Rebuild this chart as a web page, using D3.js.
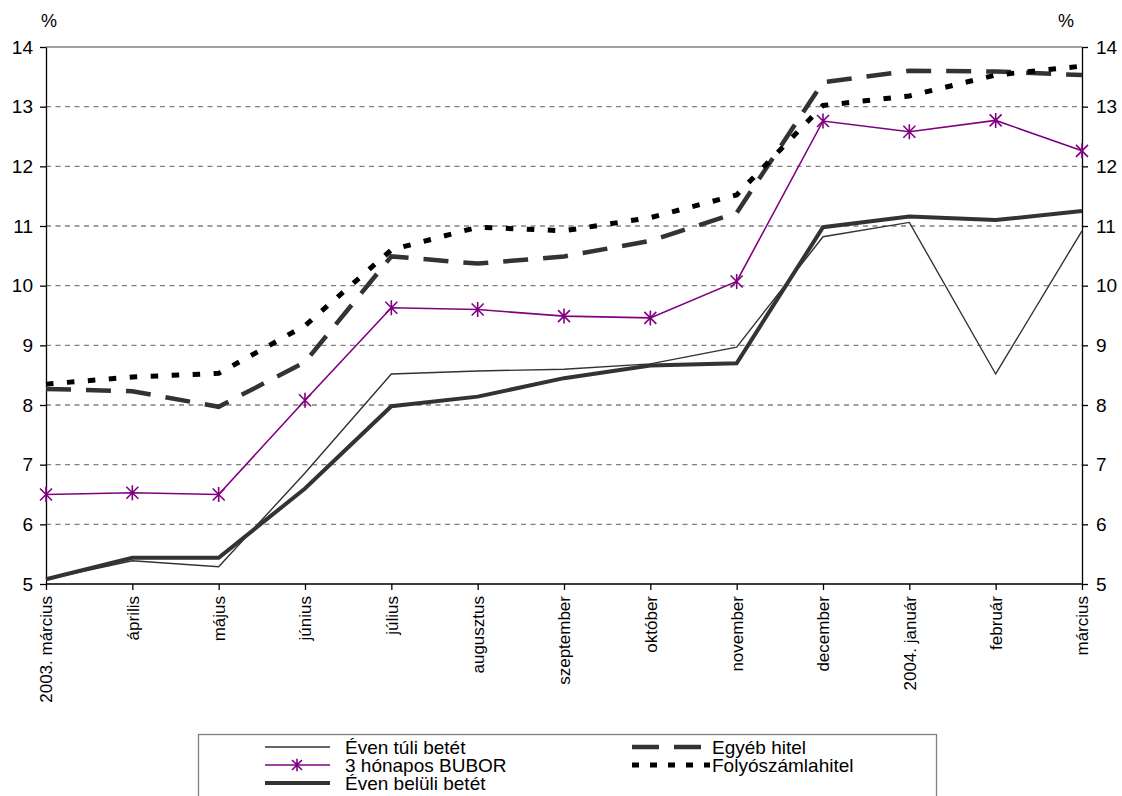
<!DOCTYPE html>
<html>
<head>
<meta charset="utf-8">
<script src="https://cdn.jsdelivr.net/npm/d3@7/dist/d3.min.js"></script>
<style>
  html, body { margin: 0; padding: 0; background: #fff; }
  svg { display: block; font-family: "Liberation Sans", Arial, sans-serif; }
</style>
</head>
<body>
<svg id="chart" width="1122" height="796"></svg>
<script>
// Months on the category axis
const months = ["2003. március", "április", "május", "június", "július", "augusztus",
  "szeptember", "október", "november", "december", "2004. január", "február", "március"];

// Interest rates, %
const evenTuliBetet   = [5.08, 5.39, 5.29, 6.86, 8.52, 8.57, 8.60, 8.69, 8.97, 10.82, 11.06, 8.52, 10.92];
const bubor3Honapos   = [6.50, 6.53, 6.50, 8.08, 9.63, 9.60, 9.49, 9.46, 10.07, 12.76, 12.58, 12.77, 12.26];
const evenBeluliBetet = [5.08, 5.44, 5.44, 6.60, 7.98, 8.14, 8.45, 8.66, 8.70, 10.98, 11.16, 11.10, 11.25];
const egyebHitel      = [8.27, 8.23, 7.97, 8.72, 10.49, 10.37, 10.49, 10.75, 11.22, 13.41, 13.60, 13.59, 13.53];
const folyoszamla     = [8.35, 8.47, 8.53, 9.33, 10.60, 10.98, 10.92, 11.14, 11.52, 13.02, 13.18, 13.53, 13.68];

const yTicks = [5, 6, 7, 8, 9, 10, 11, 12, 13, 14];

const svg = d3.select("#chart");
const plotLeft = 46, plotRight = 1082, plotTop = 47, plotBottom = 584;

const x = d3.scalePoint().domain(months).range([plotLeft, plotRight]);
const y = d3.scaleLinear().domain([5, 14]).range([plotBottom, plotTop]);

// Horizontal grid
svg.append("g")
  .selectAll("line")
  .data(yTicks.filter(t => t > 5 && t < 14))
  .join("line")
  .attr("x1", plotLeft).attr("x2", plotRight)
  .attr("y1", d => y(d)).attr("y2", d => y(d))
  .attr("stroke", "#808080").attr("stroke-width", 1.4)
  .attr("stroke-dasharray", "5,4.5");

// Plot frame top
svg.append("line")
  .attr("x1", plotLeft).attr("x2", plotRight)
  .attr("y1", y(14)).attr("y2", y(14))
  .attr("stroke", "#808080").attr("stroke-width", 1.3);

// Axes
const axisStyle = (g, size) => {
  g.selectAll("text").attr("font-size", size).attr("fill", "#000")
    .attr("font-family", "Liberation Sans, Arial, sans-serif");
  g.selectAll("path, line").attr("stroke", "#000").attr("stroke-width", 1.3);
};

svg.append("g")
  .attr("transform", `translate(${plotLeft},0)`)
  .call(d3.axisLeft(y).tickValues(yTicks).tickSize(6).tickPadding(7).tickSizeOuter(0))
  .call(g => axisStyle(g, 19));

svg.append("g")
  .attr("transform", `translate(${plotRight},0)`)
  .call(d3.axisRight(y).tickValues(yTicks).tickSize(6).tickPadding(8).tickSizeOuter(0))
  .call(g => axisStyle(g, 19));

const xAxis = svg.append("g")
  .attr("transform", `translate(0,${plotBottom})`)
  .call(d3.axisBottom(x).tickSize(6).tickSizeOuter(0))
  .call(g => axisStyle(g, 17));
xAxis.select(".domain").attr("d", `M${plotLeft},0H${plotRight}`);
xAxis.selectAll("text")
  .attr("transform", "rotate(-90)")
  .attr("text-anchor", "end")
  .attr("x", -12).attr("y", 0)
  .attr("dy", "0.35em");

// Unit labels
svg.append("text").attr("x", 49).attr("y", 27).attr("text-anchor", "middle")
  .attr("font-size", 18).text("%");
svg.append("text").attr("x", 1066).attr("y", 27).attr("text-anchor", "middle")
  .attr("font-size", 18).text("%");

// Series
const dashLong = "25,15";
const dashShort = "7.5,13.5";
const series = [
  { name: "Egyéb hitel", values: egyebHitel, color: "#333333", width: 4.5, dash: dashLong },
  { name: "Folyószámlahitel", values: folyoszamla, color: "#000000", width: 5, dash: dashShort },
  { name: "Éven túli betét", values: evenTuliBetet, color: "#333333", width: 1.4, dash: null },
  { name: "Éven belüli betét", values: evenBeluliBetet, color: "#333333", width: 4, dash: null },
  { name: "3 hónapos BUBOR", values: bubor3Honapos, color: "#800080", width: 1.6, dash: null, marker: true }
];

const line = d3.line()
  .x((d, i) => x(months[i]))
  .y(d => y(d));

series.forEach(s => {
  svg.append("path")
    .datum(s.values)
    .attr("fill", "none")
    .attr("stroke", s.color)
    .attr("stroke-width", s.width)
    .attr("stroke-linejoin", "miter")
    .attr("stroke-dasharray", s.dash)
    .attr("d", line);
});

// Asterisk markers
const star = (g, cx, cy, r, color) => {
  const p = `M${cx - r},${cy - r}L${cx + r},${cy + r}M${cx - r},${cy + r}L${cx + r},${cy - r}` +
            `M${cx},${cy - r * 1.25}L${cx},${cy + r * 1.25}`;
  g.append("path").attr("d", p).attr("stroke", color).attr("stroke-width", 1.6).attr("fill", "none");
};
const markers = svg.append("g");
bubor3Honapos.forEach((v, i) => star(markers, x(months[i]), y(v), 6, "#800080"));

// Legend
const lg = svg.append("g");
lg.append("rect").attr("x", 198.5).attr("y", 734.5).attr("width", 738).attr("height", 80)
  .attr("fill", "#fff").attr("stroke", "#808080").attr("stroke-width", 1.3);

const legendItems = [
  { label: "Éven túli betét", col: 0, row: 0, color: "#333333", width: 1.4, dash: null },
  { label: "3 hónapos BUBOR", col: 0, row: 1, color: "#800080", width: 1.6, dash: null, marker: true },
  { label: "Éven belüli betét", col: 0, row: 2, color: "#333333", width: 4, dash: null },
  { label: "Egyéb hitel", col: 1, row: 0, color: "#333333", width: 4.5, dash: "27,15" },
  { label: "Folyószámlahitel", col: 1, row: 1, color: "#000000", width: 5, dash: "7,11" }
];
const colX = [[265, 338, 345], [632, 711, 712]];
const rowY = [747, 765, 783];
legendItems.forEach(it => {
  const [x1, x2, tx] = colX[it.col];
  const yy = rowY[it.row];
  lg.append("line").attr("x1", x1).attr("x2", it.col === 0 ? 330 : 710).attr("y1", yy).attr("y2", yy)
    .attr("stroke", it.color).attr("stroke-width", it.width)
    .attr("stroke-dasharray", it.dash);
  if (it.marker) star(lg, 297, yy, 5, "#800080");
  lg.append("text").attr("x", tx).attr("y", yy).attr("dy", "0.35em")
    .attr("font-size", 19).attr("fill", "#000").text(it.label);
});
</script>
</body>
</html>
